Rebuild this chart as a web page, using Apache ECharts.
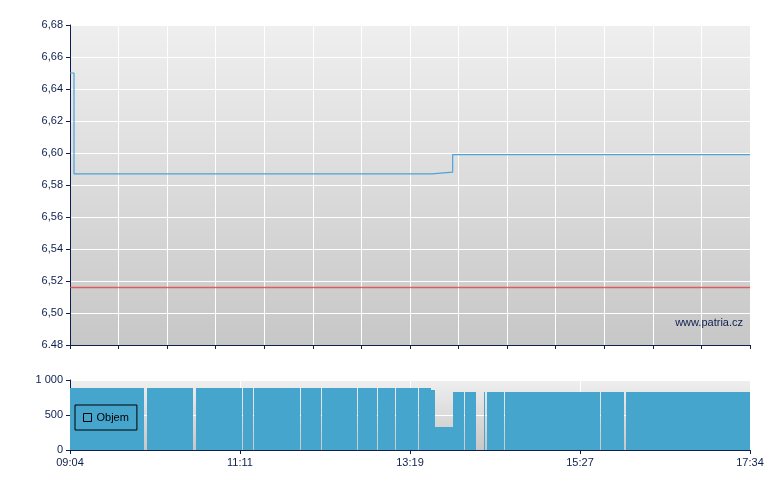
<!DOCTYPE html>
<html>
<head>
<meta charset="utf-8">
<script src="https://cdn.jsdelivr.net/npm/echarts@6/dist/echarts.min.js"></script>
<style>html,body{margin:0;padding:0;background:#fff}#c{width:780px;height:490px}</style>
</head>
<body>
<div id="c"></div>
<script>
// ---- data (minutes since 09:04) ----
var priceTime  = [0, 3, 271.5, 287, 510];
var priceValue = [6.65, 6.587, 6.588, 6.599, 6.599];
var prevClose  = 6.516;

var volStart = [0, 57.75, 94.5, 129.75, 138, 173.25, 189, 216, 231, 244.5, 261.75, 270.75, 273.75, 287.25, 296.25, 310.5, 312.75, 326.25, 398.25, 417];
var volEnd   = [55.5, 92.25, 129, 137.25, 172.5, 188.25, 215.25, 230.25, 243.75, 261, 270.75, 273.75, 287.25, 295.5, 304.5, 311.25, 325.5, 397.5, 415.5, 510];
var volValue = [886, 886, 886, 886, 886, 886, 886, 886, 886, 886, 886, 857, 329, 829, 829, 829, 829, 829, 829, 829];

var timeTickLabels  = ['09:04', '11:11', '13:19', '15:27', '17:34'];
var priceTickLabels = ['6.48', '6,50', '6,52', '6,54', '6,56', '6,58', '6,60', '6,62', '6,64', '6,66', '6,68'];
var volTickLabels   = ['0', '500', '1 000'];

// ---- chart ----
var navy = '#0d1f4f';
var font = 'Liberation Sans, Arial, sans-serif';
function grad() {
  return {type: 'linear', x: 0, y: 0, x2: 0, y2: 1,
    colorStops: [{offset: 0, color: '#efefef'}, {offset: 1, color: '#c7c7c7'}]};
}
var pricePts = priceTime.map(function (t, i) { return [t, priceValue[i]]; });
var volData = volStart.map(function (s, i) { return [s, volEnd[i], volValue[i]]; });

var chart = echarts.init(document.getElementById('c'), null, {renderer: 'canvas'});
chart.setOption({
  animation: false,
  backgroundColor: '#ffffff',
  textStyle: {fontFamily: font},
  grid: [
    {left: 70, right: 30, top: 25, height: 320, show: true, backgroundColor: grad(), borderWidth: 0},
    {left: 70, right: 30, top: 380, height: 70, show: true, backgroundColor: grad(), borderWidth: 0}
  ],
  xAxis: [
    {type: 'value', gridIndex: 0, min: 0, max: 510, interval: 510 / 14,
      axisLine: {show: true, onZero: false, lineStyle: {color: navy, width: 1}},
      axisTick: {show: true, length: 4, lineStyle: {color: navy}},
      axisLabel: {show: false},
      splitLine: {show: true, lineStyle: {color: '#ffffff', width: 1}}},
    {type: 'value', gridIndex: 1, min: 0, max: 510, interval: 127.5,
      axisLine: {show: true, onZero: false, lineStyle: {color: navy, width: 1}},
      axisTick: {show: true, length: 4, lineStyle: {color: navy}},
      axisLabel: {show: true, color: navy, fontSize: 11, fontFamily: font, margin: 7,
        formatter: function (v) { return timeTickLabels[Math.round(v / 127.5)]; }},
      splitLine: {show: true, lineStyle: {color: '#ffffff', width: 1}}}
  ],
  yAxis: [
    {type: 'value', gridIndex: 0, min: 6.48, max: 6.68, interval: 0.02,
      axisLine: {show: true, lineStyle: {color: navy, width: 1}},
      axisTick: {show: true, length: 4, lineStyle: {color: navy}},
      axisLabel: {color: navy, fontSize: 11, fontFamily: font, margin: 7,
        formatter: function (v) { return priceTickLabels[Math.round((v - 6.48) / 0.02)]; }},
      splitLine: {show: true, lineStyle: {color: '#ffffff', width: 1}}},
    {type: 'value', gridIndex: 1, min: 0, max: 1000, interval: 500,
      axisLine: {show: true, lineStyle: {color: navy, width: 1}},
      axisTick: {show: true, length: 4, lineStyle: {color: navy}},
      axisLabel: {color: navy, fontSize: 11, fontFamily: font, margin: 7,
        formatter: function (v) { return volTickLabels[Math.round(v / 500)]; }},
      splitLine: {show: true, lineStyle: {color: '#ffffff', width: 1}}}
  ],
  legend: {
    show: true, left: 75, top: 405, orient: 'horizontal',
    borderColor: '#000000', borderWidth: 1, borderRadius: 0, padding: [7, 8, 7, 8],
    itemWidth: 8, itemHeight: 8, itemGap: 4,
    textStyle: {color: '#000000', fontSize: 11, fontFamily: font},
    data: [{name: 'Objem', icon: 'rect',
      itemStyle: {color: 'rgba(0,0,0,0)', borderColor: '#000000', borderWidth: 1}}]
  },
  graphic: [{
    type: 'text', right: 37, top: 317, z: 100,
    style: {text: 'www.patria.cz', fill: navy, font: '11px ' + font}
  }],
  series: [
    {name: 'prev', type: 'line', xAxisIndex: 0, yAxisIndex: 0,
      data: [[0, prevClose], [510, prevClose]], showSymbol: false, silent: true,
      lineStyle: {color: '#e04848', width: 1.5, opacity: 0.85}},
    {name: 'Cena', type: 'line', xAxisIndex: 0, yAxisIndex: 0, step: 'end',
      data: pricePts, showSymbol: false, silent: true,
      lineStyle: {color: '#4ba4d6', width: 1.2}},
    {name: 'Objem', type: 'custom', xAxisIndex: 1, yAxisIndex: 1,
      data: volData, encode: {x: [0, 1], y: 2},
      itemStyle: {color: '#45a5cd'},
      renderItem: function (params, api) {
        var s = api.coord([api.value(0), 0]);
        var e = api.coord([api.value(1), api.value(2)]);
        return {type: 'rect',
          shape: {x: s[0], y: e[1], width: Math.max(e[0] - s[0], 0.8), height: s[1] - e[1]},
          style: {fill: '#45a5cd'}};
      }}
  ]
});
</script>
</body>
</html>
